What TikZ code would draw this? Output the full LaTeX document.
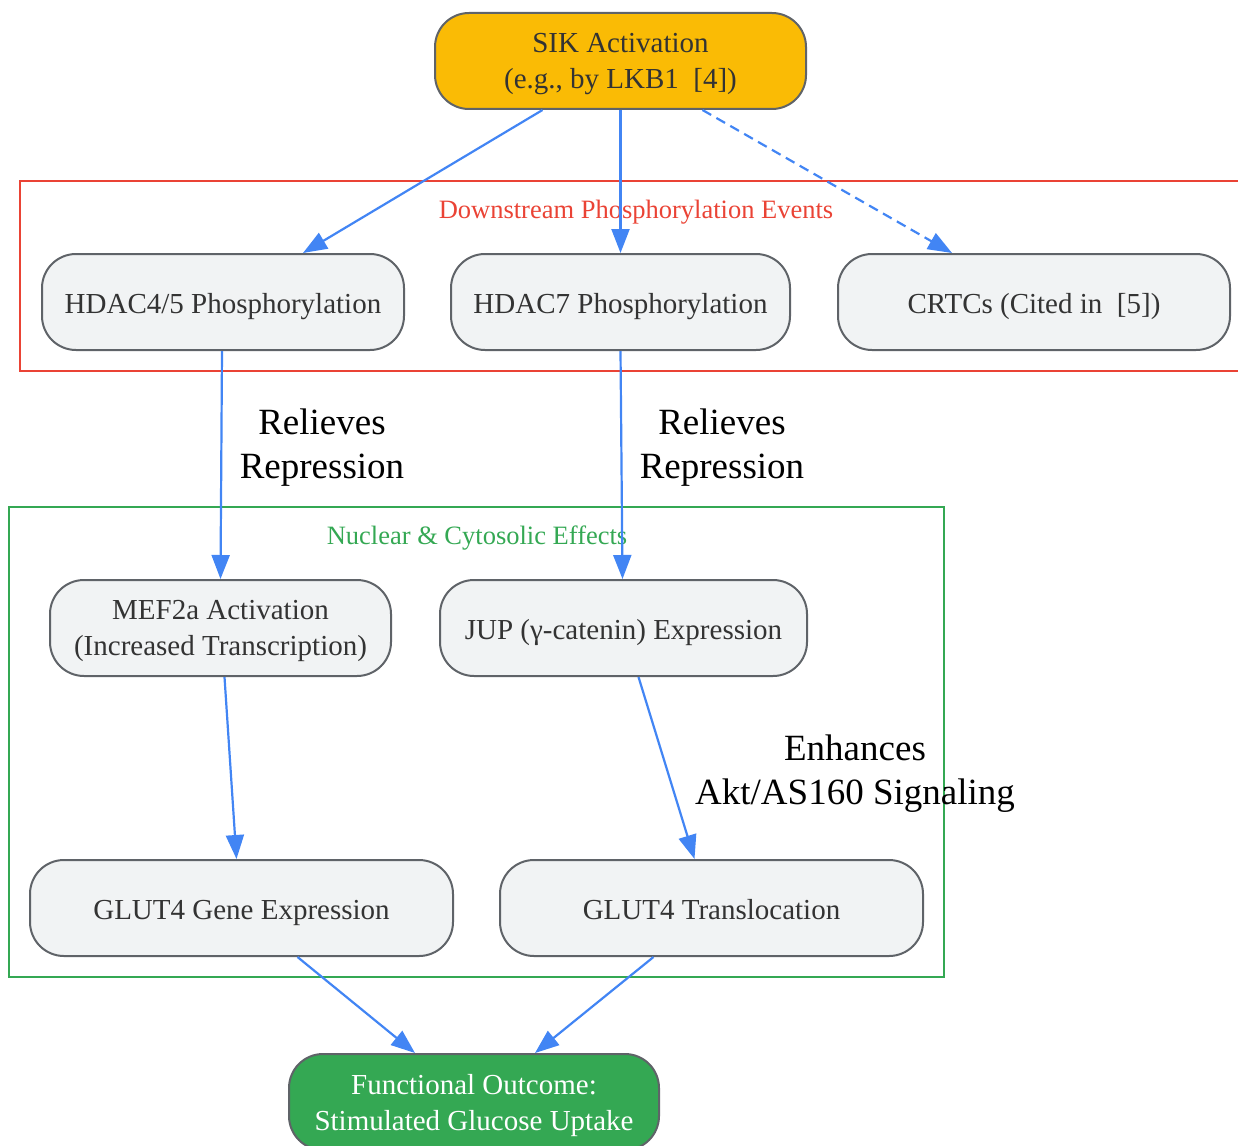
\documentclass[tikz,border=0pt]{standalone}
\usepackage{fontspec}
\setmainfont{Liberation Serif}
\usetikzlibrary{arrows.meta}

\definecolor{edgeblue}{HTML}{4285F4}
\definecolor{boxgray}{HTML}{F1F3F4}
\definecolor{boxline}{HTML}{5F6368}
\definecolor{sikamber}{HTML}{FABB05}
\definecolor{outgreen}{HTML}{34A853}
\definecolor{groupred}{HTML}{EA4335}
\definecolor{textgray}{HTML}{333333}

\tikzset{
  box/.style={draw=boxline, line width=2pt, rounded corners=34pt, fill=boxgray,
    text=textgray, minimum height=96pt, align=center, inner sep=0pt,
    font=\fontsize{29}{36}\selectfont},
  % keep the box texts at the same height
  oneline/.style={box, execute at begin node=\rule{0pt}{29pt}, execute at end node=\rule[-7pt]{0pt}{7pt}},
  twoline/.style={box, text depth=-5pt},
  flow/.style={edgeblue, line width=2.2pt, -{Triangle[length=24pt,width=18pt]}},
  groupbox/.style={line width=2pt},
  grouplabel/.style={font=\fontsize{26.5}{32}\selectfont},
  edgelabel/.style={align=center, text=black, font=\fontsize{37}{44}\selectfont},
}

\begin{document}
\begin{tikzpicture}[x=1pt,y=1pt]

    % Fix the page to the reference size
    \useasboundingbox (0,0) rectangle (1238,-1145);

    % Draw the two groups
    \draw[groupbox, groupred] (20,-181) rectangle (1250,-371);
    \node[grouplabel, text=groupred] (grpA) at (636,-212) {Downstream Phosphorylation Events};
    \draw[groupbox, outgreen] (9,-507) rectangle (944,-977);
    \node[grouplabel, text=outgreen] (grpB) at (477,-538) {Nuclear \& Cytosolic Effects};

    % Draw the nodes
    \node[twoline, fill=sikamber, minimum width=371pt] (sik) at (620.5,-61) {SIK Activation\\(e.g., by LKB1\ \ [4])};
    \node[oneline, minimum width=362pt] (hdac45) at (223,-302) {HDAC4/5 Phosphorylation};
    \node[oneline, minimum width=339pt] (hdac7) at (620.5,-302) {HDAC7 Phosphorylation};
    \node[oneline, minimum width=392pt] (crtc) at (1034,-302) {CRTCs (Cited in\ \ [5])};
    \node[twoline, minimum width=341pt] (mef) at (220.5,-628) {MEF2a Activation\\(Increased Transcription)};
    \node[oneline, minimum width=367pt] (jup) at (623.5,-628) {JUP (γ-catenin) Expression};
    \node[oneline, minimum width=423pt] (gene) at (241.5,-908) {GLUT4 Gene Expression};
    \node[oneline, minimum width=423pt] (trans) at (711.5,-908) {GLUT4 Translocation};
    \node[twoline, fill=outgreen, text=white, minimum width=370pt] (out) at (474,-1102) {Functional Outcome:\\Stimulated Glucose Uptake};

    % Draw the connectors
    \draw[flow] ([xshift=-78pt]sik.south) -- ([xshift=80pt]hdac45.north);
    \draw[flow] (sik.south) -- (hdac7.north);
    \draw[flow, dashed, dash pattern=on 10pt off 6pt] ([xshift=82pt]sik.south) -- ([xshift=-82pt]crtc.north);
    \draw[flow] ([xshift=-1pt]hdac45.south) -- (mef.north);
    \draw[flow] (hdac7.south) -- ([xshift=-1pt]jup.north);
    \draw[flow] ([xshift=4pt]mef.south) -- ([xshift=-5pt]gene.north);
    \draw[flow] ([xshift=15pt]jup.south) -- ([xshift=-17pt]trans.north);
    \draw[flow] ([xshift=56pt]gene.south) -- ([xshift=-59pt]out.north);
    \draw[flow] ([xshift=-58pt]trans.south) -- ([xshift=61pt]out.north);

    % Label the connectors
    \node[edgelabel] (relA) at (322,-448) {Relieves\\Repression};
    \node[edgelabel] (relB) at (722,-448) {Relieves\\Repression};
    \node[edgelabel] (enh) at (855,-774) {Enhances\\Akt/AS160 Signaling};

\end{tikzpicture}
\end{document}
